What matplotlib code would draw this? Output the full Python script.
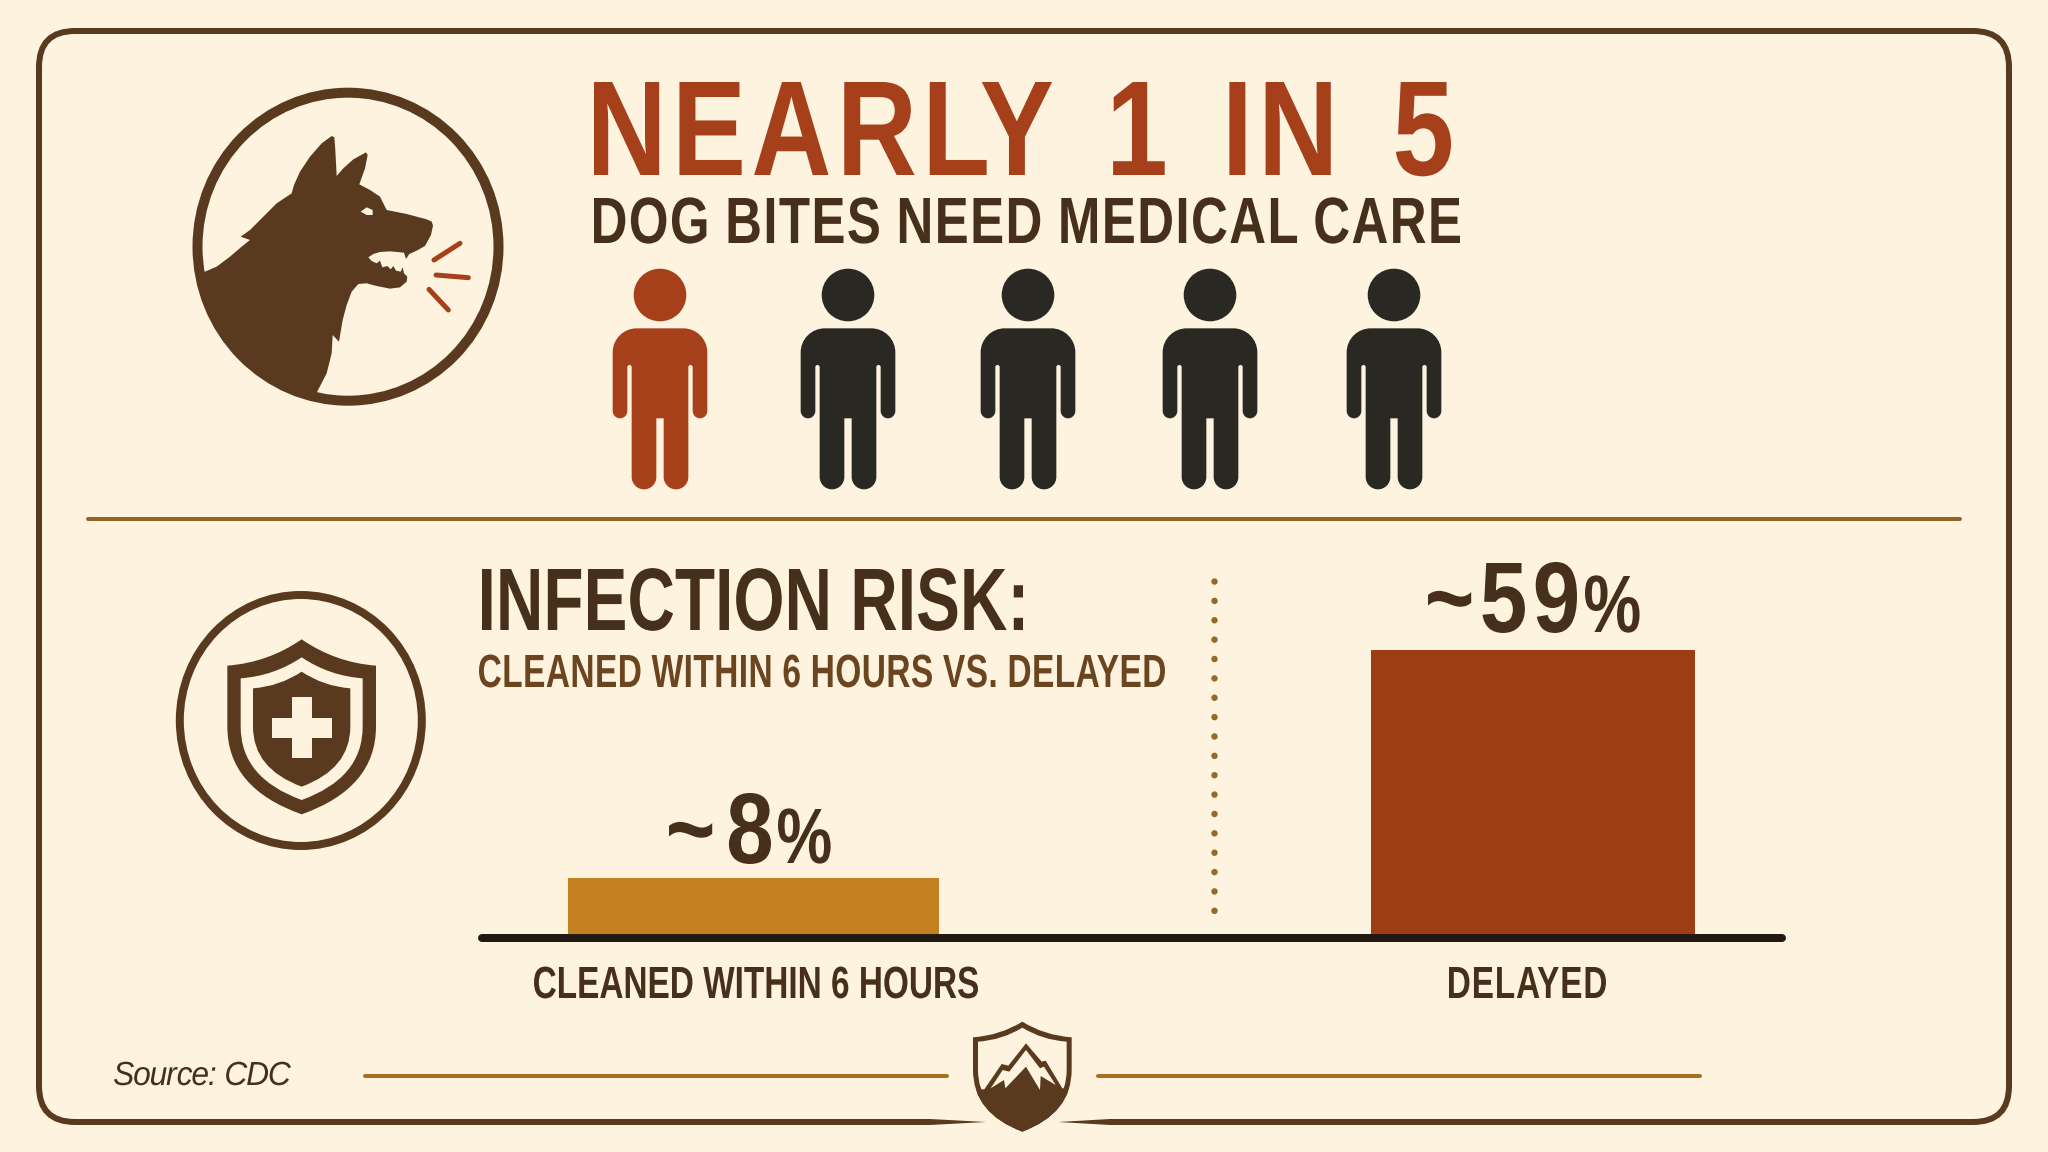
import numpy as np
import matplotlib
matplotlib.use("Agg")
import matplotlib.pyplot as plt
import matplotlib.patheffects as pe
from matplotlib.font_manager import FontProperties
from matplotlib.path import Path
from matplotlib.patches import PathPatch, Ellipse, Circle, Rectangle, Polygon
from matplotlib.text import Text
from matplotlib.textpath import TextPath
from matplotlib.transforms import Bbox

W, H = 2048, 1152

BG = "#FDF3DF"
BROWN = "#5A3A1E"
DARK_TEXT = "#47301B"
SUB_TEXT = "#6B4520"
RUST = "#A5401A"
AMBER = "#C47F1E"
GOLD = "#A8701E"
CHARCOAL = "#2A2823"

# data
people_colors = [RUST, CHARCOAL, CHARCOAL, CHARCOAL, CHARCOAL]
people_x = [660, 848, 1028, 1210, 1394]
bar_categories = ["CLEANED WITHIN 6 HOURS", "DELAYED"]
bar_labels = ["~8", "~59"]
# the picture is not drawn to scale, so heights are as measured, not 8 and 59
bar_heights = [60, 288]
bar_left = [568, 1371]
bar_widths = [371, 324]
bar_colors = [AMBER, "#9C3D13"]

fig = plt.figure(figsize=(W / 100, H / 100), dpi=100, facecolor=BG)
ax = fig.add_axes([0, 0, 1, 1])
ax.set_xlim(0, W)
ax.set_ylim(H, 0)
ax.axis("off")

PX = 0.72  # points per pixel


class Fit(pe.AbstractPathEffect):
    """Squeezes a text sideways and tracks its letters so the ink spans width px."""

    def __init__(self, sx, width, word=0):
        super().__init__()
        self.sx = sx
        self.width = width
        self.word = word

    def draw_path(self, renderer, gc, tpath, affine, rgbFace=None):
        v = tpath.vertices.copy()
        c = tpath.codes
        starts = np.flatnonzero(c == Path.MOVETO)
        ends = np.append(starts[1:], len(c))
        spans = []
        for s, e in zip(starts, ends):
            xs = v[s:e][c[s:e] != Path.CLOSEPOLY, 0]
            spans.append((xs.min(), xs.max(), s, e))
        spans.sort()
        # outlines that overlap in x belong to one glyph
        groups, gaps, right = [], [], -np.inf
        for lo, hi, s, e in spans:
            if lo >= right:
                groups.append([])
                gaps.append(lo - right)
            groups[-1].append((s, e))
            right = max(right, hi)
        gaps = np.array(gaps[1:])
        breaks = gaps > 2.5 * np.median(gaps) if len(gaps) else gaps
        left = spans[0][0]
        ink = (max(sp[1] for sp in spans) - left) * self.sx
        unit = affine.get_matrix()[0, 0]
        word = self.word / unit
        track = (self.width / unit - ink - word * np.sum(breaks)) / max(len(groups) - 1, 1)
        v[:, 0] = (v[:, 0] - left) * self.sx
        shift = 0
        for i, group in enumerate(groups):
            if i > 0:
                shift += track + (word if breaks[i - 1] else 0)
            for s, e in group:
                v[s:e, 0] += shift
        renderer.draw_path(gc, Path(v, c), affine, rgbFace)


class FitText(Text):
    """Text whose reported box is the squeezed ink, not the natural width."""

    def set_ink(self, left, right, baseline, cap):
        self.ink = (left, right, baseline, cap)

    def get_window_extent(self, renderer=None, dpi=None):
        left, right, baseline, cap = self.ink
        return Bbox.from_extents(left, H - baseline, right, H - baseline + cap)


def fit_text(s, left, right, baseline, cap, sx, color, style="normal", weight="bold", word=0):
    fp = FontProperties(family="Liberation Sans", weight=weight, style=style)
    ratio = TextPath((0, 0), "H", size=100, prop=fp).get_extents().height / 100
    t = FitText(left, baseline, s, color=color, fontsize=cap / ratio * PX,
                family=["Liberation Sans", "DejaVu Sans"], weight=weight, style=style,
                va="baseline", ha="left", path_effects=[Fit(sx, right - left, word)])
    t.set_ink(left, right, baseline, cap)
    ax.add_artist(t)


def px_line(x, y, color, w, cap="round", **kw):
    ax.plot(x, y, color=color, lw=w * PX, solid_capstyle=cap, **kw)


def zoomed(pts, ox, oy):
    return [(ox + a / 3, oy + b / 3) for a, b in pts]


def round_poly(corners):
    # corners are (x, y, radius), result is a closed path with round corners
    k = 0.55
    n = len(corners)
    verts, codes = [], []
    for i in range(n):
        p = np.array(corners[i][:2], float)
        r = corners[i][2]
        a = np.array(corners[i - 1][:2], float)
        b = np.array(corners[(i + 1) % n][:2], float)
        d_in = (p - a) / np.linalg.norm(p - a)
        d_out = (b - p) / np.linalg.norm(b - p)
        p_in, p_out = p - d_in * r, p + d_out * r
        verts.append(p_in)
        codes.append(Path.MOVETO if i == 0 else Path.LINETO)
        verts += [p_in + d_in * r * k, p_out - d_out * r * k, p_out]
        codes += [Path.CURVE4] * 3
    verts.append(verts[0])
    codes.append(Path.CLOSEPOLY)
    return Path(verts, codes)


# ── frame ─────────────────────────────────────────────────────────────────────
x0, x1, y0, y1, r = 39, 2009, 31, 1122, 36
frame = Path(
    [(930, y1), (x0 + r, y1), (x0, y1), (x0, y1 - r), (x0, y0 + r), (x0, y0), (x0 + r, y0),
     (x1 - r, y0), (x1, y0), (x1, y0 + r), (x1, y1 - r), (x1, y1), (x1 - r, y1), (1110, y1)],
    [1, 2, 3, 3, 2, 3, 3, 2, 3, 3, 2, 3, 3, 2])
ax.add_patch(PathPatch(frame, fc="none", ec=BROWN, lw=6 * PX, capstyle="butt"))
ax.add_patch(Polygon([(930, y1 - 3), (986, y1), (930, y1 + 3)], fc=BROWN, ec="none"))
ax.add_patch(Polygon([(1110, y1 - 3), (1058, y1), (1110, y1 + 3)], fc=BROWN, ec="none"))

# ── dog icon ──────────────────────────────────────────────────────────────────
ax.add_patch(Ellipse((348, 246.7), 301, 308, fc="none", ec=BROWN, lw=10 * PX))
dog_pts = [
    (160, 637), (200, 620), (240, 590), (275, 560), (300, 540), (272, 530), (300, 510), (340, 470),
    (380, 430), (425, 400), (432, 375), (450, 335), (480, 290), (515, 250), (545, 228), (553, 232),
    (556, 270), (560, 348), (580, 325), (610, 298), (648, 277), (653, 285), (645, 325), (628, 373),
    (660, 390), (690, 410), (700, 430), (710, 450), (770, 462), (830, 478), (845, 485), (849, 497),
    (843, 525), (825, 558), (800, 572), (778, 582), (768, 597), (762, 578), (720, 574), (690, 576),
    (670, 582), (655, 592), (665, 603), (680, 610), (690, 602), (697, 622), (712, 618), (722, 628),
    (730, 618), (738, 632), (752, 635), (758, 622), (762, 640), (772, 650), (770, 665), (750, 682),
    (720, 686), (680, 678), (650, 670), (625, 672), (605, 695), (590, 735), (578, 780), (567, 845),
    (548, 825), (545, 880), (530, 940), (500, 998), (400, 1060), (200, 950), (90, 700),
]
dog = Polygon(zoomed(dog_pts, 150, 60), fc=BROWN, ec="none")
ax.add_patch(dog)
dog.set_clip_path(Ellipse((348, 246.7), 305, 312, transform=ax.transData))
eye_pts = [(632, 455), (650, 442), (668, 450), (668, 465), (650, 465)]
ax.add_patch(Polygon(zoomed(eye_pts, 150, 60), fc=BG, ec="none"))
for seg in ([(852, 600), (930, 550)], [(858, 645), (955, 653)], [(837, 688), (895, 750)]):
    p = zoomed(seg, 150, 60)
    px_line([p[0][0], p[1][0]], [p[0][1], p[1][1]], RUST, 5)


# ── shields ───────────────────────────────────────────────────────────────────
def shield(cx, top, sh, hw, side, bottom):
    return Path(
        [(cx, top), (cx + hw * 0.45, sh - (sh - top) * 0.12), (cx + hw, sh),
         (cx + hw, side), (cx + hw, bottom - (bottom - side) * 0.3), (cx, bottom),
         (cx - hw, bottom - (bottom - side) * 0.3), (cx - hw, side),
         (cx - hw, sh), (cx - hw * 0.45, sh - (sh - top) * 0.12), (cx, top), (cx, top)],
        [1, 3, 3, 2, 3, 3, 3, 3, 2, 3, 3, 79])


def zshield(ox, oy, cx, top, sh, hw, side, bottom, color):
    s = shield(ox + cx / 3, oy + top / 3, oy + sh / 3, hw / 3, oy + side / 3, oy + bottom / 3)
    patch = PathPatch(s, fc=color, ec="none")
    ax.add_patch(patch)
    return patch


ax.add_patch(Ellipse((300.8, 720.5), 242, 251, fc="none", ec=BROWN, lw=8 * PX))
zshield(150, 570, 455, 208, 287, 223, 470, 733, BROWN)
zshield(150, 570, 455, 262, 325, 183, 470, 690, BG)
zshield(150, 570, 455, 305, 355, 146, 470, 650, BROWN)
ax.add_patch(Rectangle((150 + 365 / 3, 570 + 443 / 3), 182 / 3, 60 / 3, fc=BG, ec="none"))
ax.add_patch(Rectangle((150 + 425 / 3, 570 + 380 / 3), 60 / 3, 185 / 3, fc=BG, ec="none"))

# emblem
outer = zshield(900, 1000, 367, 65, 112, 148, 210, 395, BROWN)
zshield(900, 1000, 367, 83, 125, 133, 210, 378, BG)
mtn_pts = [(253, 268), (305, 192), (325, 197), (378, 130), (425, 185), (437, 182), (487, 265),
           (520, 265), (520, 400), (220, 400), (220, 268)]
mtn = Polygon(zoomed(mtn_pts, 900, 1000), fc=BROWN, ec="none")
ax.add_patch(mtn)
mtn.set_clip_path(outer.get_path(), ax.transData)
snow_pts = [(272, 265), (308, 210), (328, 215), (378, 150), (420, 205), (432, 200), (467, 255),
            (422, 228), (420, 270), (378, 200), (316, 265), (312, 240)]
ax.add_patch(Polygon(zoomed(snow_pts, 900, 1000), fc=BG, ec="none"))

# ── people ────────────────────────────────────────────────────────────────────
body_half = [(142, 235, 72), (142, 505, 22), (98, 505, 22), (98, 345, 6), (85, 345, 6),
             (85, 718, 37), (11, 718, 37), (11, 505, 0.01)]


def person(cx, color):
    corners = body_half + [(-a, b, c) for a, b, c in body_half[::-1]]
    body = round_poly([(cx + a / 3, 250 + b / 3, c / 3) for a, b, c in corners])
    ax.add_patch(PathPatch(body, fc=color, ec="none"))
    ax.add_patch(Circle((cx, 295), 26.3, fc=color, ec="none"))


for px, col in zip(people_x, people_colors):
    person(px, col)

# ── rules ─────────────────────────────────────────────────────────────────────
px_line([88, 1960], [519, 519], "#8F6425", 4)
px_line([365, 947], [1076, 1076], GOLD, 4)
px_line([1098, 1700], [1076, 1076], GOLD, 4)
ax.plot([1214, 1214], [581, 913], color="#96682A", lw=6.5 * PX, ls=(0, (0.01, 2.97)), dash_capstyle="round")

# ── text ──────────────────────────────────────────────────────────────────────
fit_text("NEARLY 1 IN 5", 594, 1451, 175, 93, 0.82, RUST, word=18)
fit_text("DOG BITES NEED MEDICAL CARE", 594, 1460, 243, 45, 0.78, DARK_TEXT)
fit_text("INFECTION RISK:", 482, 1023, 630, 61, 0.74, DARK_TEXT)
fit_text("CLEANED WITHIN 6 HOURS VS. DELAYED", 479, 1165, 687, 32, 0.72, SUB_TEXT)
fit_text(bar_categories[0], 534, 978, 998, 31, 0.74, DARK_TEXT)
fit_text(bar_categories[1], 1449, 1606, 998, 31, 0.74, DARK_TEXT)
fit_text(bar_labels[0], 669, 771, 863, 69, 0.85, DARK_TEXT)
fit_text("%", 778, 836, 863, 54, 0.8, DARK_TEXT)
fit_text(bar_labels[1], 1428, 1577, 632, 69, 0.85, DARK_TEXT)
fit_text("%", 1585, 1642, 632, 56, 0.8, DARK_TEXT)
fit_text("Source: CDC", 114, 291, 1085, 23, 0.95, DARK_TEXT, style="italic", weight="normal")

# ── bars ──────────────────────────────────────────────────────────────────────
bx0, bx1, by_base, by_top = 478, 1786, 938, 560
bar_ax = fig.add_axes([bx0 / W, 1 - by_base / H, (bx1 - bx0) / W, (by_base - by_top) / H])
bar_ax.patch.set_alpha(0)
bar_ax.set_xlim(bx0, bx1)
bar_ax.set_ylim(0, by_base - by_top)
bar_ax.bar(bar_left, bar_heights, width=bar_widths, align="edge", color=bar_colors)
for s in bar_ax.spines.values():
    s.set_visible(False)
bar_ax.set_xticks([])
bar_ax.set_yticks([])
bar_ax.plot([bx0 + 4, bx1 - 4], [0, 0], color="#221A12", lw=8 * PX, solid_capstyle="round", clip_on=False)

fig.savefig("out.png", dpi=100, facecolor=BG)
plt.close()
